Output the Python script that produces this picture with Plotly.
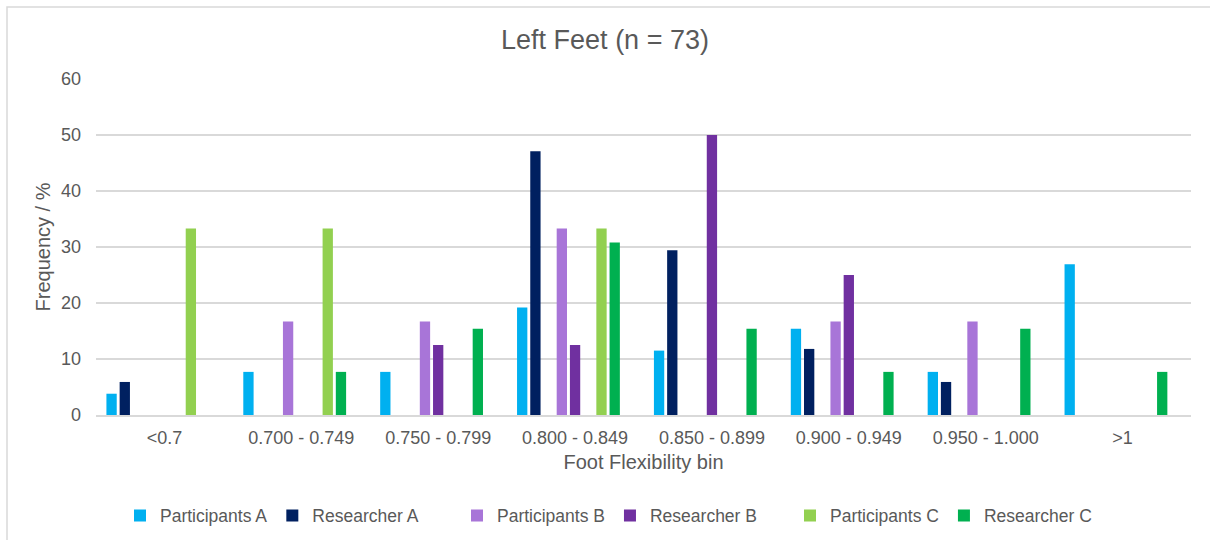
import plotly.graph_objects as go

categories = ["<0.7", "0.700 - 0.749", "0.750 - 0.799", "0.800 - 0.849",
              "0.850 - 0.899", "0.900 - 0.949", "0.950 - 1.000", ">1"]

participants_a = [3.8, 7.7, 7.7, 19.2, 11.5, 15.4, 7.7, 26.9]
researcher_a = [5.9, 0, 0, 47.1, 29.4, 11.8, 5.9, 0]
participants_b = [0, 16.7, 16.7, 33.3, 0, 16.7, 16.7, 0]
researcher_b = [0, 0, 12.5, 12.5, 50.0, 25.0, 0, 0]
participants_c = [33.3, 33.3, 0, 33.3, 0, 0, 0, 0]
researcher_c = [0, 7.7, 15.4, 30.8, 15.4, 7.7, 15.4, 7.7]
blank = [None] * len(categories)

# (name, values, colour, legend group)
series = [
    ("Participants A", participants_a, "#00B0F0", "legend"),
    ("Researcher A", researcher_a, "#002060", "legend"),
    ("", blank, "rgba(0,0,0,0)", None),
    ("Participants B", participants_b, "#A875D8", "legend2"),
    ("Researcher B", researcher_b, "#7030A0", "legend2"),
    ("", blank, "rgba(0,0,0,0)", None),
    ("Participants C", participants_c, "#92D050", "legend3"),
    ("Researcher C", researcher_c, "#00B050", "legend3"),
    ("", blank, "rgba(0,0,0,0)", None),
]

fig = go.Figure()
for name, vals, color, leg in series:
    fig.add_trace(go.Bar(
        x=categories, y=vals, name=name,
        marker=dict(color=color, line=dict(width=0)),
        showlegend=leg is not None, legend=leg or "legend",
        hoverinfo="x+y+name" if name else "skip",
    ))

font_family = "Liberation Sans, Arial, sans-serif"
text_color = "#595959"

L, R, T, B = 96, 19, 79, 125
W, H = 1210, 540
pw, ph = W - L - R, H - T - B


def px_x(px):
    return (px - L) / pw


def px_y(px):
    return (T + ph - px) / ph


leg_common = dict(orientation="h", xanchor="left", yanchor="middle",
                  y=px_y(515.5), font=dict(size=17.5, color=text_color),
                  itemwidth=30, bgcolor="rgba(0,0,0,0)")

fig.update_layout(
    width=W, height=H,
    margin=dict(l=L, r=R, t=T, b=B, autoexpand=False),
    paper_bgcolor="white", plot_bgcolor="white",
    barmode="group", bargap=0.131, bargroupgap=0.22,
    font=dict(family=font_family, color=text_color, size=18),
    title=dict(text="Left Feet (n = 73)", x=0.5, xanchor="center",
               y=1 - 40 / H, yanchor="middle",
               font=dict(size=27, color=text_color, family=font_family)),
    xaxis=dict(
        type="category", showgrid=False, zeroline=False, automargin=False,
        showline=True, linecolor="#D9D9D9", linewidth=1.5,
        ticks="", tickfont=dict(size=18, color=text_color),
        ticklabelstandoff=6,
        title=dict(text="Foot Flexibility bin", standoff=8,
                   font=dict(size=20, color=text_color)),
    ),
    yaxis=dict(
        range=[0, 60], dtick=10, showgrid=True, gridcolor="#D9D9D9",
        gridwidth=1.5, zeroline=False, showline=False, ticks="",
        automargin=False,
        tickfont=dict(size=18, color=text_color), ticklabelstandoff=14,
        title=dict(text="Frequency / %", standoff=4,
                   font=dict(size=20, color=text_color)),
    ),
    legend=dict(x=px_x(120), **leg_common),
    legend2=dict(x=px_x(457), **leg_common),
    legend3=dict(x=px_x(790), **leg_common),
    shapes=[dict(
        type="rect", xref="paper", yref="paper",
        x0=px_x(7), x1=px_x(1230),
        y0=px_y(560), y1=px_y(7),
        line=dict(color="#D9D9D9", width=1.5), fillcolor="rgba(0,0,0,0)",
        layer="below",
    )],
)

fig.write_html(
    "out.html",
    config={"displayModeBar": False},
    post_script="document.body.style.margin='0';"
                "document.body.style.overflow='hidden';",
)
